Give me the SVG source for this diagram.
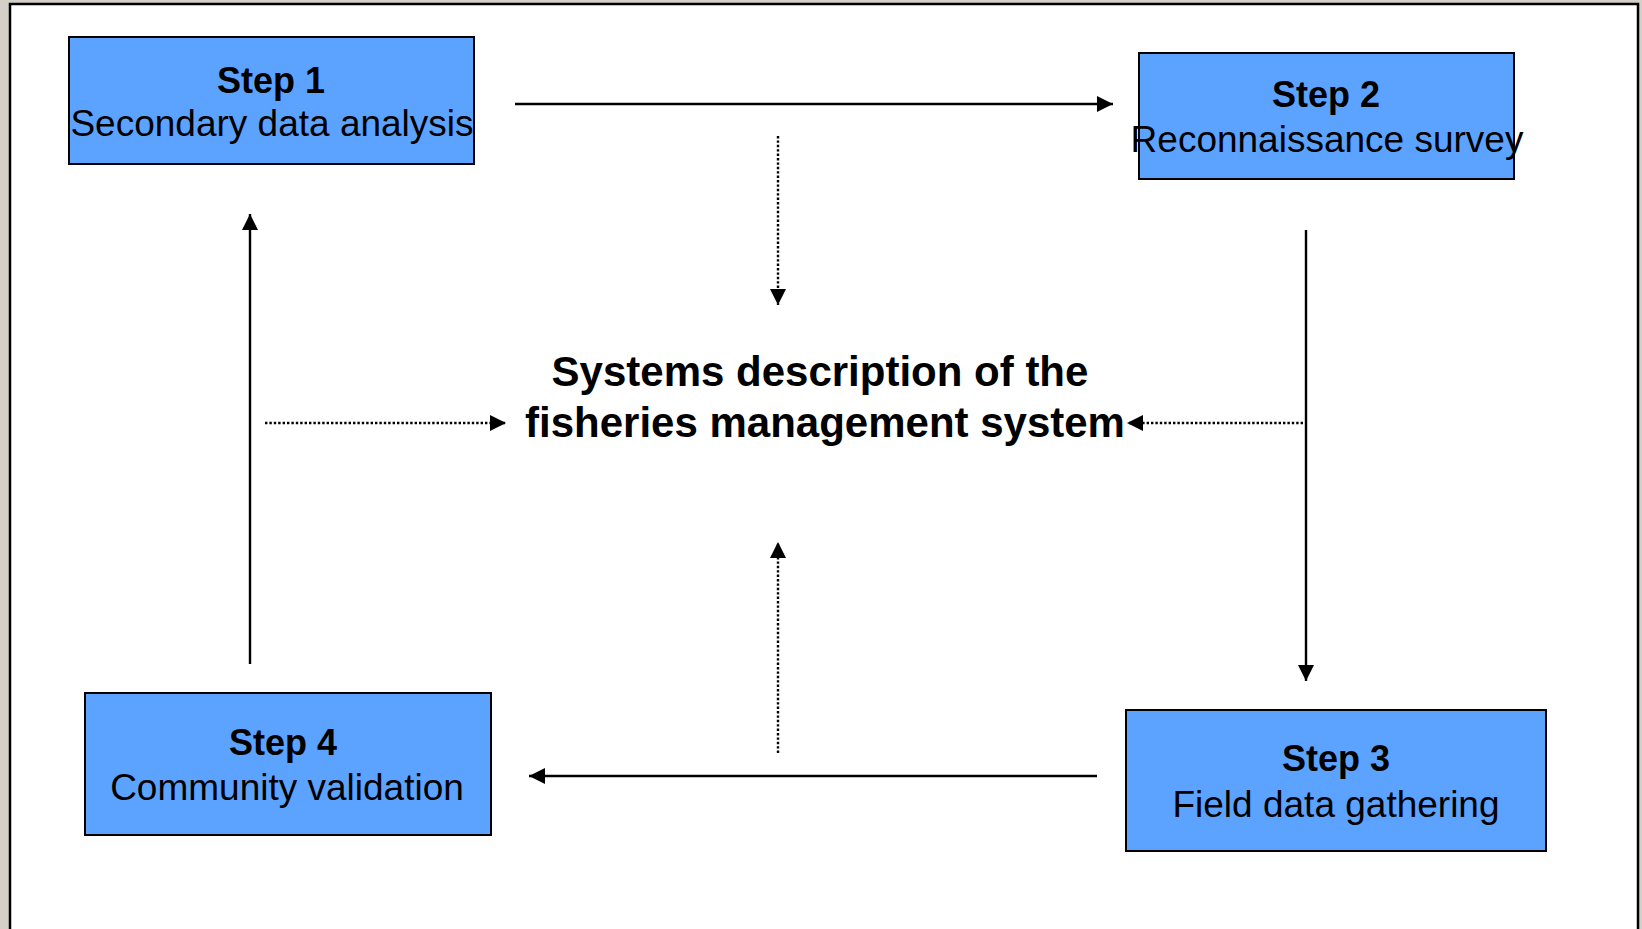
<svg xmlns="http://www.w3.org/2000/svg" width="1642" height="929" viewBox="0 0 1642 929">
<style>
.box{fill:#5CA3FF;stroke:#000;stroke-width:2}
.t{font-family:"Liberation Sans",Arial,sans-serif;fill:#000;text-anchor:middle}
.b{font-weight:bold;font-size:36px}
.r{font-size:37px}
.c{font-weight:bold;font-size:42px}
.solid{stroke:#000;stroke-width:2.4;fill:none}
.dot{stroke:#000;stroke-width:2.4;fill:none;stroke-dasharray:2.4 2}
</style>
<defs>
<marker id="ah" markerUnits="userSpaceOnUse" markerWidth="16" markerHeight="16" refX="16" refY="8" orient="auto">
<path d="M0,0 L16,8 L0,16 z" fill="#000"/>
</marker>
</defs>
<rect x="0" y="0" width="1642" height="929" fill="#D4D0C8"/>
<rect x="10" y="4" width="1628" height="1000" fill="#fff" stroke="#000" stroke-width="2.5"/>
<g id="connectors">
<line class="solid" x1="515" y1="104" x2="1113" y2="104" marker-end="url(#ah)"/>
<line class="solid" x1="1306" y1="230" x2="1306" y2="681" marker-end="url(#ah)"/>
<line class="solid" x1="1097" y1="776" x2="529" y2="776" marker-end="url(#ah)"/>
<line class="solid" x1="250" y1="664" x2="250" y2="214" marker-end="url(#ah)"/>
<line class="dot" x1="778" y1="136" x2="778" y2="305" marker-end="url(#ah)"/>
<line class="dot" x1="778" y1="753" x2="778" y2="542" marker-end="url(#ah)"/>
<line class="dot" x1="265" y1="423" x2="506" y2="423" marker-end="url(#ah)"/>
<line class="dot" x1="1303" y1="423" x2="1127" y2="423" marker-end="url(#ah)"/>
</g>
<g id="step1">
<rect class="box" x="69" y="37" width="405" height="127"/>
<text class="t b" x="271" y="93">Step 1</text>
<text class="t r" x="272" y="136">Secondary data analysis</text>
</g>
<g id="step2">
<rect class="box" x="1139" y="53" width="375" height="126"/>
<text class="t b" x="1326" y="107">Step 2</text>
<text class="t r" x="1327" y="152">Reconnaissance survey</text>
</g>
<g id="step3">
<rect class="box" x="1126" y="710" width="420" height="141"/>
<text class="t b" x="1336" y="771">Step 3</text>
<text class="t r" x="1336" y="817">Field data gathering</text>
</g>
<g id="step4">
<rect class="box" x="85" y="693" width="406" height="142"/>
<text class="t b" x="283" y="755">Step 4</text>
<text class="t r" x="287" y="800">Community validation</text>
</g>
<g id="center">
<text class="t c" x="820" y="386">Systems description of the</text>
<text class="t c" x="825" y="437">fisheries management system</text>
</g>
</svg>
